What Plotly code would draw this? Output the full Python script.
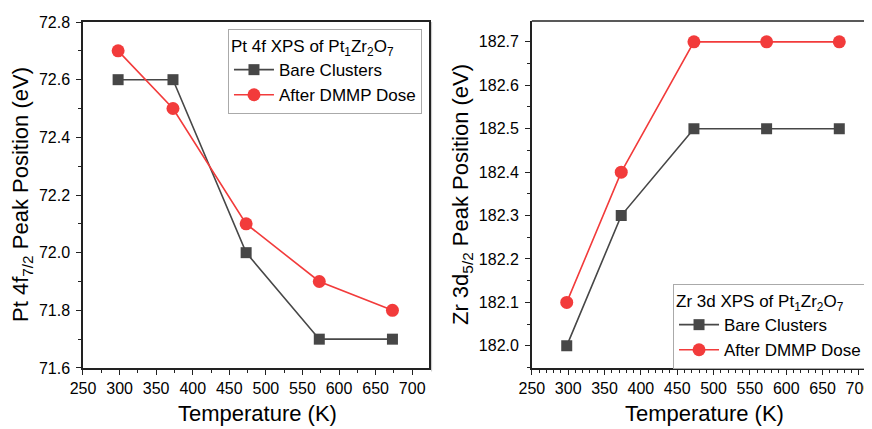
import plotly.graph_objects as go

temps = [298, 373, 473, 573, 673]
pt_bare = [72.6, 72.6, 72.0, 71.7, 71.7]
pt_dmmp = [72.7, 72.5, 72.1, 71.9, 71.8]
zr_bare = [182.0, 182.3, 182.5, 182.5, 182.5]
zr_dmmp = [182.1, 182.4, 182.7, 182.7, 182.7]

x_title = "Temperature (K)"
y_title_pt = "Pt 4f<sub>7/2</sub> Peak Position (eV)"
y_title_zr = "Zr 3d<sub>5/2</sub> Peak Position (eV)"
legend_title_pt = "Pt 4f XPS of Pt<sub>1</sub>Zr<sub>2</sub>O<sub>7</sub>"
legend_title_zr = "Zr 3d XPS of Pt<sub>1</sub>Zr<sub>2</sub>O<sub>7</sub>"

GRAY = "#474747"
RED = "#f23b3b"
FONT = "Liberation Sans, Arial, sans-serif"

fig = go.Figure()

def add(x, y, name, color, symbol, size, xa, ya, legend):
    fig.add_trace(go.Scatter(
        x=x, y=y, name=name, mode="lines+markers",
        line=dict(color=color, width=1.6),
        marker=dict(color=color, symbol=symbol, size=size),
        xaxis=xa, yaxis=ya, legend=legend))

add(temps, pt_bare, "Bare Clusters", GRAY, "square", 11, "x", "y", "legend")
add(temps, pt_dmmp, "After DMMP Dose", RED, "circle", 13, "x", "y", "legend")
add(temps, zr_bare, "Bare Clusters", GRAY, "square", 11, "x2", "y2", "legend2")
add(temps, zr_dmmp, "After DMMP Dose", RED, "circle", 13, "x2", "y2", "legend2")

tickfont = dict(family=FONT, size=16, color="#000")
titlefont = dict(family=FONT, size=22, color="#000")

common_x = dict(showline=True, linecolor="#222", linewidth=1.5, ticks="outside",
                ticklen=5, tickwidth=1.3, tickcolor="#222", showgrid=False,
                zeroline=False, tickfont=tickfont, dtick=50, tick0=250,
                automargin=False, ticklabelstandoff=0, ticklabeloverflow="allow")

common_y = dict(showline=True, linecolor="#222", linewidth=1.5,
                ticks="outside", ticklen=5, tickwidth=1.3, tickcolor="#222",
                showgrid=False, zeroline=False, tickfont=tickfont,
                tickformat=".1f", automargin=False, ticklabelstandoff=3)

fig.update_layout(
    width=864, height=421,
    margin=dict(l=0, r=0, t=0, b=0, autoexpand=False),
    paper_bgcolor="white", plot_bgcolor="white",
    font=dict(family=FONT, color="#000"),
    xaxis=dict(domain=[0.0868, 0.4873], range=[250, 723], anchor="y", mirror=True,
               minor=dict(dtick=25, ticks="outside", ticklen=3, tickcolor="#222"),
               **common_x),
    yaxis=dict(domain=[0.1449, 0.9667], range=[71.6, 72.8], anchor="x", mirror=True,
               dtick=0.2, tick0=71.6,
               minor=dict(dtick=0.1, ticks="outside", ticklen=3, tickcolor="#222"),
               **common_y),
    xaxis2=dict(domain=[0.6063, 1.0], range=[250, 718], anchor="y2", mirror=False,
                minor=dict(dtick=10, ticks="outside", ticklen=3, tickcolor="#222"),
                **common_x),
    yaxis2=dict(domain=[0.1449, 0.9691], range=[181.949, 182.748], anchor="x2", mirror=False,
                dtick=0.1, tick0=182.0,
                minor=dict(dtick=0.05, ticks="outside", ticklen=3, tickcolor="#222"),
                **common_y),
    legend=dict(x=0.2546, y=0.9501, xanchor="left", yanchor="top",
                bgcolor="white", bordercolor="#aaa", borderwidth=1,
                font=dict(family=FONT, size=17, color="#000"),
                title=dict(text=legend_title_pt, font=dict(family=FONT, size=17, color="#000")),
                itemwidth=40, tracegroupgap=0),
    legend2=dict(x=0.7697, y=0.3444, xanchor="left", yanchor="top",
                 bgcolor="white", bordercolor="#aaa", borderwidth=1,
                 font=dict(family=FONT, size=17, color="#000"),
                 title=dict(text=legend_title_zr, font=dict(family=FONT, size=17, color="#000")),
                 itemwidth=40, tracegroupgap=0),
)

# axis titles
fig.add_annotation(text=x_title, xref="paper", yref="paper", x=0.2882, y=0.038,
                   xanchor="center", yanchor="middle", showarrow=False, font=titlefont)
fig.add_annotation(text=x_title, xref="paper", yref="paper", x=0.8067, y=0.038,
                   xanchor="center", yanchor="middle", showarrow=False, font=titlefont)
fig.add_annotation(text=y_title_pt, xref="paper", yref="paper", x=0.0162, y=0.5582,
                   xanchor="center", yanchor="middle", showarrow=False, font=titlefont,
                   textangle=-90)
fig.add_annotation(text=y_title_zr, xref="paper", yref="paper", x=0.5255, y=0.5558,
                   xanchor="center", yanchor="middle", showarrow=False, font=titlefont,
                   textangle=-90)

# top frame line of the right panel (right side is cropped in the reference)
fig.add_shape(type="line", xref="x2 domain", yref="y2 domain", x0=0, x1=1, y0=1, y1=1,
              line=dict(color="#222", width=1.5))
# faint border line just right of the left panel
fig.add_shape(type="line", xref="x domain", yref="y domain", x0=1.0075, x1=1.0075, y0=-0.01, y1=1.0,
              line=dict(color="#c8c8c8", width=1))

fig.write_html("out.html")
